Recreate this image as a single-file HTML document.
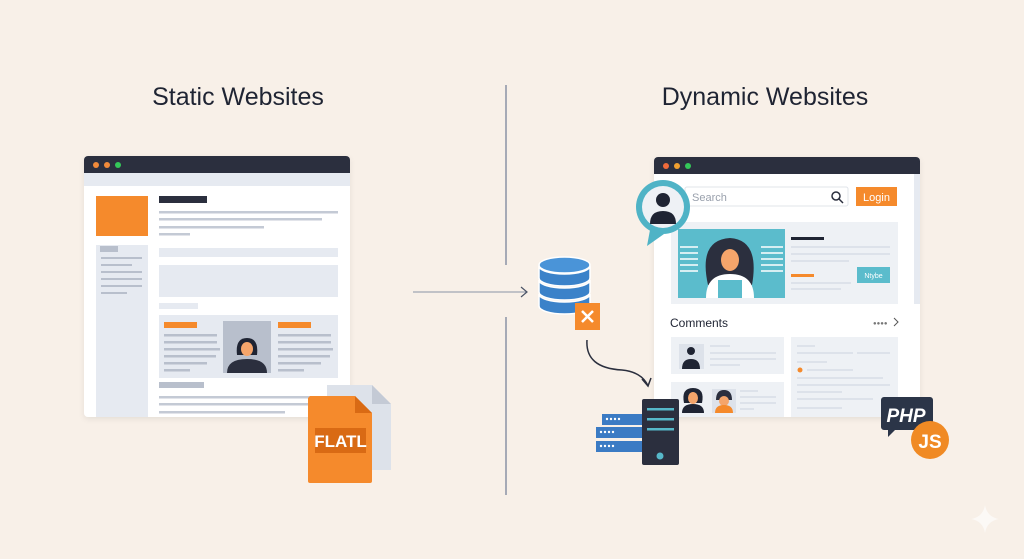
<!DOCTYPE html>
<html><head><meta charset="utf-8"><style>
html,body{margin:0;padding:0;background:#f8f0e8;}
svg{display:block;font-family:"Liberation Sans",sans-serif;}
</style></head><body>
<svg width="1024" height="559" viewBox="0 0 1024 559" xmlns="http://www.w3.org/2000/svg">
<defs><filter id="sh" x="-10%" y="-10%" width="120%" height="130%"><feDropShadow dx="0" dy="2" stdDeviation="3" flood-color="#000" flood-opacity="0.08"/></filter></defs>
<rect width="1024" height="559" fill="#f8f0e8"/>
<text x="238" y="105" font-size="25" text-anchor="middle" fill="#1f2433">Static Websites</text>
<text x="765" y="105" font-size="25" text-anchor="middle" fill="#1f2433">Dynamic Websites</text>
<!-- divider -->
<line x1="506" y1="85" x2="506" y2="265" stroke="#8a93a6" stroke-width="1.5"/>
<line x1="506" y1="317" x2="506" y2="495" stroke="#8a93a6" stroke-width="1.5"/>
<line x1="413" y1="292" x2="526" y2="292" stroke="#8a93a6" stroke-width="1"/>
<polyline points="521,287 527,292 521,297" fill="none" stroke="#4a5366" stroke-width="1.2"/>

<!-- static browser -->
<rect x="84" y="156" width="266" height="261" rx="4" fill="#fff" filter="url(#sh)"/>
<path d="M84 173 V160 a4 4 0 0 1 4-4 H346 a4 4 0 0 1 4 4 V173Z" fill="#2b2f3e"/>
<rect x="84" y="173" width="266" height="13" fill="#e6eaf1"/>
<circle cx="96" cy="165" r="3" fill="#f08a3a"/><circle cx="107" cy="165" r="3" fill="#f08a3a"/><circle cx="118" cy="165" r="3" fill="#34c759"/>
<rect x="96" y="196" width="52" height="40" fill="#f58a2c"/>
<rect x="96" y="245" width="52" height="172" fill="#e6eaf1"/>
<rect x="100" y="246" width="18" height="6" fill="#b8bfcc"/>
<g fill="#b8bfcc"><rect x="101" y="257" width="41" height="2"/><rect x="101" y="264" width="31" height="2"/><rect x="101" y="271" width="41" height="2"/><rect x="101" y="278" width="41" height="2"/><rect x="101" y="285" width="41" height="2"/><rect x="101" y="292" width="26" height="2"/></g>
<rect x="159" y="196" width="48" height="7" fill="#2b2f3e"/>
<g fill="#c4cad5"><rect x="159" y="211" width="179" height="2.5"/><rect x="159" y="218" width="163" height="2.5"/><rect x="159" y="226" width="105" height="2.5"/><rect x="159" y="233" width="31" height="2.5"/></g>
<rect x="159" y="248" width="179" height="9" fill="#e6eaf1"/>
<rect x="159" y="265" width="179" height="32" fill="#e6eaf1"/>
<rect x="159" y="303" width="39" height="6" fill="#e6eaf1"/>
<rect x="159" y="315" width="179" height="63" fill="#e6eaf1"/>
<rect x="164" y="322" width="33" height="6" fill="#f58a2c"/><rect x="278" y="322" width="33" height="6" fill="#f58a2c"/>
<g fill="#b8bfcc"><rect x="164" y="334" width="53" height="2.5"/><rect x="164" y="341" width="53" height="2.5"/><rect x="164" y="348" width="56" height="2.5"/><rect x="164" y="355" width="52" height="2.5"/><rect x="164" y="362" width="43" height="2.5"/><rect x="164" y="369" width="26" height="2.5"/>
<rect x="278" y="334" width="53" height="2.5"/><rect x="278" y="341" width="53" height="2.5"/><rect x="278" y="348" width="55" height="2.5"/><rect x="278" y="355" width="52" height="2.5"/><rect x="278" y="362" width="43" height="2.5"/><rect x="278" y="369" width="26" height="2.5"/></g>
<rect x="223" y="321" width="48" height="52" fill="#b8bfcc"/>
<path d="M237 355 q-2-17 10-17 q12 0 10 17Z" fill="#1f2433"/>
<ellipse cx="247" cy="349" rx="6" ry="7" fill="#f5a56b"/>
<path d="M227 373 q0-14 20-14 q20 0 20 14Z" fill="#2b2f3e"/>
<rect x="159" y="382" width="45" height="6" fill="#b8bfcc"/>
<g fill="#c4cad5"><rect x="159" y="396" width="160" height="2.5"/><rect x="159" y="403" width="160" height="2.5"/><rect x="159" y="411" width="126" height="2.5"/></g>
<!-- file -->
<path d="M327 385 H372 L391 404 V470 H327Z" fill="#dde2ea"/>
<path d="M372 385 V404 H391Z" fill="#c4cad5"/>
<path d="M310 396 H355 L372 413 V481 a2 2 0 0 1-2 2 H310 a2 2 0 0 1-2-2 V398Z" fill="#f58a2c"/>
<path d="M355 396 V413 H372Z" fill="#d96a14"/>
<rect x="315" y="428" width="51" height="25" fill="#d96a14"/>
<text x="340.5" y="447" font-size="17" font-weight="bold" fill="#fff" text-anchor="middle">FLATL</text>

<!-- database -->
<g fill="#3b82c9" stroke="#fff" stroke-width="1.5">
<path d="M539 306 v-12 a25.5 8 0 0 0 51 0 v12 a25.5 8 0 0 1 -51 0Z"/>
<path d="M539 292 v-12 a25.5 8 0 0 0 51 0 v12 a25.5 8 0 0 1 -51 0Z"/>
<path d="M539 278 v-12 a25.5 8 0 0 0 51 0 v12 a25.5 8 0 0 1 -51 0Z"/>
<ellipse cx="564.5" cy="265" rx="25.5" ry="8" fill="#4a94d8"/>
</g>
<rect x="575" y="303" width="25" height="27" fill="#f58a2c"/>
<path d="M582 311 l11 11 M593 311 l-11 11" stroke="#fff" stroke-width="2.5"/>
<path d="M587 340 q-2 28 35 30 q20 2 26 16" fill="none" stroke="#2b2f3e" stroke-width="1.5"/>
<polyline points="642,379 648,386 651,378" fill="none" stroke="#2b2f3e" stroke-width="1.5"/>
<!-- server -->
<g fill="#3b7bc4"><rect x="602" y="414" width="40" height="11"/><rect x="596" y="427" width="46" height="11"/><rect x="596" y="441" width="46" height="11"/></g>
<g fill="#fff"><circle cx="607" cy="419" r="1.2"/><circle cx="611" cy="419" r="1.2"/><circle cx="615" cy="419" r="1.2"/><circle cx="619" cy="419" r="1.2"/><circle cx="601" cy="432" r="1.2"/><circle cx="605" cy="432" r="1.2"/><circle cx="609" cy="432" r="1.2"/><circle cx="613" cy="432" r="1.2"/><circle cx="601" cy="446" r="1.2"/><circle cx="605" cy="446" r="1.2"/><circle cx="609" cy="446" r="1.2"/><circle cx="613" cy="446" r="1.2"/></g>

<!-- dynamic browser -->
<rect x="654" y="157" width="266" height="260" rx="4" fill="#fff" filter="url(#sh)"/>
<path d="M654 174 V161 a4 4 0 0 1 4-4 H916 a4 4 0 0 1 4 4 V174Z" fill="#2b2f3e"/>
<rect x="914" y="174" width="6" height="130" fill="#e6eaf1"/>
<circle cx="666" cy="166" r="3" fill="#f06a3a"/><circle cx="677" cy="166" r="3" fill="#f0a030"/><circle cx="688" cy="166" r="3" fill="#34c759"/>
<rect x="685" y="187" width="163" height="19" rx="2" fill="#fff" stroke="#e0e4ea"/>
<text x="692" y="201" font-size="11" fill="#9aa1ad">Search</text>
<circle cx="836" cy="196" r="4" fill="none" stroke="#2b2f3e" stroke-width="1.5"/><line x1="839" y1="199" x2="843" y2="203" stroke="#2b2f3e" stroke-width="1.5"/>
<rect x="856" y="187" width="41" height="19" fill="#f58a2c"/>
<text x="876.5" y="201" font-size="11" fill="#fff" text-anchor="middle">Login</text>
<rect x="671" y="222" width="227" height="82" fill="#eef1f5"/>
<rect x="678" y="229" width="107" height="69" fill="#5bbccc"/>
<g fill="#d6eef2"><rect x="680" y="246" width="18" height="2"/><rect x="680" y="252" width="18" height="2"/><rect x="680" y="258" width="18" height="2"/><rect x="680" y="264" width="18" height="2"/><rect x="680" y="270" width="18" height="2"/><rect x="761" y="246" width="22" height="2"/><rect x="761" y="252" width="22" height="2"/><rect x="761" y="258" width="22" height="2"/><rect x="761" y="264" width="22" height="2"/><rect x="761" y="270" width="22" height="2"/></g>
<path d="M708 285 q-10-45 22-47 q30 2 22 47Z" fill="#2b2f3e"/>
<ellipse cx="730" cy="260" rx="9" ry="11" fill="#f5a56b"/>
<path d="M706 298 q0-24 24-24 q24 0 24 24Z" fill="#fff"/>
<rect x="718" y="280" width="24" height="18" fill="#5bbccc"/>
<rect x="791" y="237" width="33" height="3" fill="#1f2433"/>
<g fill="#dde2ea"><rect x="791" y="246" width="99" height="2"/><rect x="791" y="253" width="99" height="2"/><rect x="791" y="260" width="58" height="2"/><rect x="791" y="282" width="60" height="2"/><rect x="791" y="288" width="50" height="2"/></g>
<rect x="791" y="274" width="23" height="3" fill="#f58a2c"/>
<rect x="857" y="267" width="33" height="16" fill="#5bbccc"/>
<text x="873.5" y="278" font-size="7" fill="#fff" text-anchor="middle">Ntybe</text>
<text x="670" y="327" font-size="12" fill="#1f2433">Comments</text>
<text x="873" y="325" font-size="6" fill="#777">●●●●</text>
<polyline points="894,318 898,322 894,326" fill="none" stroke="#555" stroke-width="1"/>
<rect x="671" y="337" width="113" height="37" fill="#eef1f5"/>
<rect x="679" y="344" width="25" height="25" fill="#dde2ea"/>
<circle cx="691" cy="351" r="4" fill="#1f2433"/><path d="M682 369 q0-10 9-10 q9 0 9 10Z" fill="#1f2433"/>
<g fill="#dde2ea"><rect x="710" y="345" width="20" height="2"/><rect x="710" y="352" width="66" height="2"/><rect x="710" y="358" width="66" height="2"/><rect x="710" y="364" width="30" height="2"/></g>
<rect x="791" y="337" width="107" height="80" fill="#eef1f5"/>
<g fill="#dde2ea"><rect x="797" y="345" width="18" height="2"/><rect x="797" y="352" width="56" height="2"/><rect x="857" y="352" width="33" height="2"/><rect x="797" y="361" width="30" height="2"/><rect x="807" y="369" width="46" height="2"/><rect x="797" y="377" width="86" height="2"/><rect x="797" y="384" width="93" height="2"/><rect x="797" y="391" width="45" height="2"/><rect x="797" y="398" width="76" height="2"/><rect x="797" y="407" width="45" height="2"/></g>
<circle cx="800" cy="370" r="2.5" fill="#f58a2c"/>
<rect x="671" y="382" width="113" height="35" fill="#eef1f5"/>
<path d="M684 403 q-3-15 9-15 q12 0 9 15Z" fill="#1f2433"/><ellipse cx="693" cy="398" rx="5" ry="6" fill="#f5a56b"/><path d="M682 413 q0-9 11-9 q11 0 11 9Z" fill="#1f2433"/>
<rect x="712" y="389" width="24" height="24" fill="#dde2ea"/>
<path d="M716 400 q0-10 8-10 q8 0 8 10Z" fill="#2b2f3e"/><ellipse cx="724" cy="401" rx="5" ry="5" fill="#f5a56b"/><path d="M715 413 q0-8 9-8 q9 0 9 8Z" fill="#f58a2c"/>
<g fill="#dde2ea"><rect x="740" y="390" width="18" height="2"/><rect x="740" y="396" width="36" height="2"/><rect x="740" y="402" width="36" height="2"/><rect x="740" y="408" width="14" height="2"/></g>
<!-- server tower on top -->
<rect x="642" y="399" width="37" height="66" rx="2" fill="#2b2f3e"/>
<g fill="#56b8c9"><rect x="647" y="408" width="27" height="2.5"/><rect x="647" y="418" width="27" height="2.5"/><rect x="647" y="428" width="27" height="2.5"/><circle cx="660" cy="456" r="3.5"/></g>
<!-- avatar bubble -->
<path d="M650 230 L647 246 L664 234Z" fill="#4fb3c6"/>
<circle cx="663" cy="207" r="27" fill="#4fb3c6"/>
<circle cx="663" cy="207" r="21" fill="#eef1f5"/>
<circle cx="663" cy="200" r="7" fill="#1f2433"/>
<path d="M650 224 q0-13 13-13 q13 0 13 13Z" fill="#1f2433"/>
<!-- PHP JS -->
<path d="M884 397 H930 a3 3 0 0 1 3 3 V427 a3 3 0 0 1-3 3 H895 L888 437 V430 H884 a3 3 0 0 1-3-3 V400 a3 3 0 0 1 3-3Z" fill="#2b3548"/>
<text x="906" y="422" font-size="19" font-weight="bold" font-style="italic" fill="#fff" text-anchor="middle">PHP</text>
<circle cx="930" cy="440" r="19" fill="#f08a24"/>
<text x="930" y="448" font-size="19" font-weight="bold" fill="#fff" text-anchor="middle">JS</text>
<!-- sparkle -->
<path d="M985 505 q2 12 14 14 q-12 2 -14 14 q-2-12 -14-14 q12-2 14-14Z" fill="#fff" opacity="0.6"/>
</svg>
</body></html>
